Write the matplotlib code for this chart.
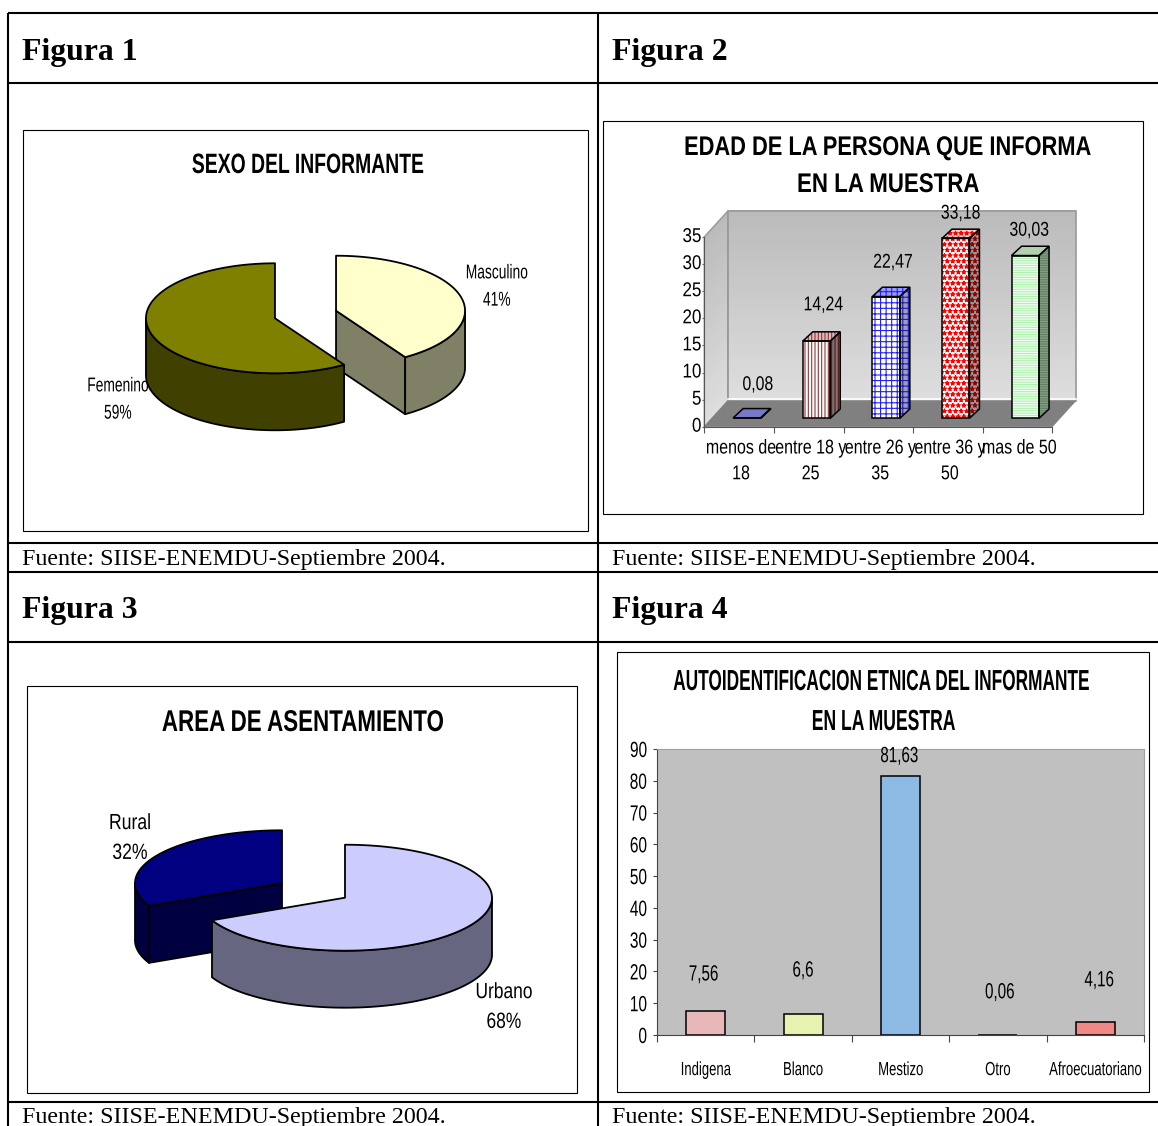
import numpy as np
import matplotlib
matplotlib.use("Agg")
import matplotlib.pyplot as plt
from matplotlib.patches import Polygon, Rectangle
from matplotlib.patheffects import AbstractPathEffect
from matplotlib.transforms import Affine2D, Bbox

W, H = 1158, 1126
SANS = ['Liberation Sans', 'DejaVu Sans']
SERIF = ['Liberation Serif', 'DejaVu Serif']

# ---- data ----
fig_titles = ['Figura 1', 'Figura 2', 'Figura 3', 'Figura 4']
source_note = 'Fuente: SIISE-ENEMDU-Septiembre 2004.'

sexo_labels = ['Masculino', 'Femenino']
sexo_pct = [41, 59]

area_labels = ['Urbano', 'Rural']
area_pct = [68, 32]

edad_labels = ['menos de\n18', 'entre 18 y\n25', 'entre 26 y\n35', 'entre 36 y\n50', 'mas de 50']
edad_vals = [0.08, 14.24, 22.47, 33.18, 30.03]
edad_text = ['0,08', '14,24', '22,47', '33,18', '30,03']
edad_ticks = [0, 5, 10, 15, 20, 25, 30, 35]

etnia_labels = ['Indigena', 'Blanco', 'Mestizo', 'Otro', 'Afroecuatoriano']
etnia_vals = [7.56, 6.6, 81.63, 0.06, 4.16]
etnia_text = ['7,56', '6,6', '81,63', '0,06', '4,16']
etnia_ticks = [0, 10, 20, 30, 40, 50, 60, 70, 80, 90]


def pt(px):
    return px * 0.72


class Squeeze(AbstractPathEffect):
    """Draws a text condensed horizontally about its left, centre or right."""

    def __init__(self, sx, anchor='center'):
        super().__init__()
        self.sx, self.anchor = sx, anchor

    def draw_path(self, renderer, gc, tpath, affine, rgbFace=None):
        xs = tpath.vertices[:, 0]
        a = {'left': xs.min(), 'right': xs.max(), 'center': (xs.min() + xs.max()) / 2}[self.anchor]
        aff = Affine2D().translate(-a, 0).scale(self.sx, 1).translate(a, 0) + affine
        renderer.draw_path(gc, tpath, aff, rgbFace)


def squeeze(t, sx, anchor='center'):
    t.set_path_effects([Squeeze(sx, anchor)])
    orig = t.get_window_extent

    def extent(renderer=None, dpi=None):
        b = orig(renderer, dpi)
        a = {'left': b.x0, 'right': b.x1, 'center': (b.x0 + b.x1) / 2}[anchor]
        return Bbox.from_extents(a + (b.x0 - a) * sx, b.y0, a + (b.x1 - a) * sx, b.y1)

    t.get_window_extent = extent
    return t


plt.rcParams['hatch.linewidth'] = 0.8
fig = plt.figure(figsize=(W / 100, H / 100), dpi=100, facecolor='white')
bg = fig.add_axes([0, 0, 1, 1])
bg.set_xlim(0, W)
bg.set_ylim(H, 0)
bg.axis('off')
rend = fig.canvas.get_renderer()


def fit(t, width):
    return squeeze(t, width / t.get_window_extent(rend).width)


def ax_px(x0, y0, x1, y1):
    return fig.add_axes([x0 / W, 1 - y1 / H, (x1 - x0) / W, (y1 - y0) / H])


# ---- table ----
for y in [13, 83, 543, 572, 642, 1102]:
    bg.plot([8, W], [y, y], color='black', lw=1.5, solid_capstyle='butt')
for x in [8, 598]:
    bg.plot([x, x], [13, H], color='black', lw=1.5, solid_capstyle='butt')

for i, (x, y) in enumerate([(22, 49), (612, 49), (22, 607), (612, 607)]):
    bg.text(x, y, fig_titles[i], family=SERIF, weight='bold', fontsize=pt(31.8),
            ha='left', va='center_baseline')
for x, y in [(22, 557), (612, 557), (22, 1115), (612, 1115)]:
    bg.text(x, y, source_note, family=SERIF, fontsize=pt(24.05), ha='left', va='center_baseline')

for x0, y0, x1, y1 in [(23, 130, 588, 531), (603, 121, 1143, 514),
                       (27, 686, 577, 1093), (617, 652, 1149, 1092)]:
    bg.add_patch(Rectangle((x0, y0), x1 - x0, y1 - y0, fc='white', ec='black', lw=0.8))


# ---- 3D pies ----
def arc(c, rx, ry, a0, a1, dy=0, n=120):
    t = np.radians(np.linspace(a0, a1, n))
    return np.column_stack([c[0] + rx * np.sin(t), c[1] - ry * np.cos(t) + dy])


def slice3d(c, rx, ry, depth, a0, a1, top, side):
    lw = 1.3
    ex = '#000000'
    apex = np.array(c, float)
    if 180 < a0 < 360:
        e = arc(c, rx, ry, a0, a0, n=1)[0]
        q = [apex, e, e + [0, depth], apex + [0, depth]]
        bg.add_patch(Polygon(q, fc=side, ec=ex, lw=lw, joinstyle='round'))
    if 0 < a1 < 180:
        e = arc(c, rx, ry, a1, a1, n=1)[0]
        q = [apex, e, e + [0, depth], apex + [0, depth]]
        bg.add_patch(Polygon(q, fc=side, ec=ex, lw=lw, joinstyle='round'))
    w0, w1 = max(a0, 90), min(a1, 270)
    if w1 > w0:
        up = arc(c, rx, ry, w0, w1)
        dn = arc(c, rx, ry, w0, w1, dy=depth)[::-1]
        bg.add_patch(Polygon(np.vstack([up, dn]), fc=side, ec=ex, lw=lw, joinstyle='round'))
    poly = np.vstack([[apex], arc(c, rx, ry, a0, a1)])
    bg.add_patch(Polygon(poly, fc=top, ec=ex, lw=lw, joinstyle='round'))


def pie3d(c, rx, ry, depth, pct, expl, tops, sides, order):
    angles = np.cumsum([0] + [p * 3.6 for p in pct])
    for i in order:
        mid = np.radians((angles[i] + angles[i + 1]) / 2)
        ci = (c[0] + expl * np.sin(mid), c[1] - expl * np.cos(mid) * ry / rx)
        slice3d(ci, rx, ry, depth, angles[i], angles[i + 1], tops[i], sides[i])


pie3d((305.5, 314.5), 129, 55, 57, sexo_pct, 31.8, ['#FFFFCC', '#808000'], ['#808066', '#404000'], [0, 1])
pie3d((313.5, 890.5), 147, 53, 57, area_pct, 37.3, ['#CCCCFF', '#000080'], ['#666680', '#000040'], [1, 0])

titles = [(308, 166, 'SEXO DEL INFORMANTE', 28, 232),
          (887, 148, 'EDAD DE LA PERSONA QUE INFORMA', 27, 406),
          (888, 185, 'EN LA MUESTRA', 27, 182),
          (303, 723, 'AREA DE ASENTAMIENTO', 30, 282),
          (883, 682, 'AUTOIDENTIFICACION ETNICA DEL INFORMANTE', 29, 418),
          (884, 722, 'EN LA MUESTRA', 29, 144)]
for x, y, s, size, width in titles:
    t = bg.text(x, y, s, family=SANS, weight='bold', fontsize=pt(size), ha='center', va='center')
    fit(t, width)

pie_labels = [(497, 286.5, f'{sexo_labels[0]}\n{sexo_pct[0]}%', 20, 0.69, 1.55),
              (118, 399.5, f'{sexo_labels[1]}\n{sexo_pct[1]}%', 20, 0.69, 1.55),
              (504, 1007.5, f'{area_labels[0]}\n{area_pct[0]}%', 22, 0.79, 1.55),
              (130, 838.5, f'{area_labels[1]}\n{area_pct[1]}%', 22, 0.8, 1.55)]
for x, y, s, size, sx, ls in pie_labels:
    t = bg.text(x, y, s, family=SANS, fontsize=pt(size), ha='center', va='center', linespacing=ls)
    squeeze(t, sx)

# ---- Figura 2: 3D columns ----
X0, X1, Y35, Y0 = 704.3, 1052.3, 237, 426.7
DEPTH_X, DEPTH_Y = 23.4, 25.7
ax2 = ax_px(X0, Y35, X1, Y0)
ax2.set_xlim(0, len(edad_vals))
ax2.set_ylim(0, edad_ticks[-1])
ax2.patch.set_visible(False)
ux = len(edad_vals) / (X1 - X0)
uy = edad_ticks[-1] / (Y0 - Y35)
dx, dy = DEPTH_X * ux, DEPTH_Y * uy
xmax, ymax = len(edad_vals), edad_ticks[-1]


def lerp_grey(a, b, f):
    v = a + (b - a) * f
    return (v, v, v)


n_strip = 40
for k in range(n_strip):
    f = k / n_strip
    y0 = ymax * f
    y1 = ymax * (k + 1.2) / n_strip
    col = lerp_grey(0.87, 0.73, f)
    ax2.fill([dx, xmax + dx, xmax + dx, dx], [y0 + dy, y0 + dy, y1 + dy, y1 + dy], color=col, lw=0,
             clip_on=False, zorder=1)
    ax2.fill([0, dx, dx, 0], [y0, y0 + dy, y1 + dy, y1], color=col, lw=0, clip_on=False, zorder=1)
ax2.add_patch(Polygon([[dx, dy], [dx, ymax + dy], [xmax + dx, ymax + dy], [xmax + dx, dy]],
                      fill=False, ec='#999999', lw=1.2, clip_on=False, zorder=2))
ax2.add_patch(Polygon([[0, 0], [0, ymax], [dx, ymax + dy], [dx, dy]],
                      fill=False, ec='#999999', lw=1.0, clip_on=False, zorder=2))
ax2.add_patch(Polygon([[0, 0], [xmax, 0], [xmax + dx, dy], [dx, dy]],
                      fc='#808080', ec='#808080', lw=0.5, clip_on=False, zorder=2))
ax2.plot([dx, xmax + dx], [dy + 0.3, dy + 0.3], color='white', lw=1.2, clip_on=False, zorder=2)

bar_w = 27.5 * ux
bar_off = 7.8 * ux
bar_dx, bar_dy = 10 * ux, 9.3 * uy
bar_base = 8.4 * uy
front_fc = ['#7878C8', 'white', 'white', 'white', '#F0FFF0']
front_h = [None, '|||||', '+++', '***', '-------']
front_hc = ['#7878C8', '#993333', '#2020FF', '#FF0000', '#B0F0B0']
side_fc = ['#7878C8', '#777777', '#9999CC', '#999999', '#80A080']
side_hc = ['#7878C8', '#661111', '#2020A0', '#990000', '#608060']
top_fc = ['#7878C8', '#DDBBBB', '#9999FF', '#FFCCCC', '#B0D0B0']
top_hc = ['#7878C8', '#993333', '#2020FF', '#FF0000', '#B0D0B0']
lab_dx = [11, 7, 7, 5, 4]
lab_dy = [24, 27, 25, 16, 16]

for i, v in enumerate(edad_vals):
    left = i + 0.5 + bar_off - bar_w / 2
    right = left + bar_w
    top = bar_base + v
    ax2.bar(left, v, width=bar_w, bottom=bar_base, align='edge', fc=front_fc[i], ec=front_hc[i],
            hatch=front_h[i], lw=0, clip_on=False, zorder=3)
    ax2.bar(left, v, width=bar_w, bottom=bar_base, align='edge', fill=False, ec='black', lw=1.1,
            clip_on=False, zorder=4)
    side = [[right, bar_base], [right, top], [right + bar_dx, top + bar_dy], [right + bar_dx, bar_base + bar_dy]]
    lid = [[left, top], [right, top], [right + bar_dx, top + bar_dy], [left + bar_dx, top + bar_dy]]
    for pts, fc, hc in [(side, side_fc[i], side_hc[i]), (lid, top_fc[i], top_hc[i])]:
        ax2.add_patch(Polygon(pts, fc=fc, ec=hc, hatch=front_h[i], lw=0, clip_on=False, zorder=3))
        ax2.add_patch(Polygon(pts, fill=False, ec='black', lw=1.1, clip_on=False, zorder=4))
    t = ax2.annotate(edad_text[i], (left + bar_w / 2, top + bar_dy), xytext=(lab_dx[i], lab_dy[i]),
                     textcoords='offset pixels', ha='center', va='center', family=SANS,
                     fontsize=pt(20), zorder=6, annotation_clip=False)
    squeeze(t, 0.79)

for s in ['top', 'right']:
    ax2.spines[s].set_visible(False)
for s in ['left', 'bottom']:
    ax2.spines[s].set_color('#555555')
    ax2.spines[s].set_zorder(5)
ax2.set_yticks(edad_ticks)
ax2.set_yticklabels([str(t) for t in edad_ticks], family=SANS, fontsize=pt(20))
ax2.tick_params(axis='y', length=1.5, pad=0.5, color='#555555')
ax2.set_xticks(range(len(edad_vals) + 1))
ax2.set_xticklabels([])
ax2.tick_params(axis='x', which='major', length=4, color='#555555')
ax2.set_xticks(np.arange(len(edad_vals)) + 0.5, minor=True)
ax2.set_xticklabels(edad_labels, minor=True, family=SANS, fontsize=pt(20), linespacing=1.45)
ax2.tick_params(axis='x', which='minor', length=0, pad=8.5)
for t in ax2.get_yticklabels():
    squeeze(t, 0.85, 'right')
    t.set_transform(t.get_transform() + Affine2D().translate(0, 2.5))
for t in ax2.get_xticklabels(minor=True):
    squeeze(t, 0.8)
    t.set_transform(t.get_transform() + Affine2D().translate(2, 0))

# ---- Figura 4: columns ----
ax4 = ax_px(657, 749, 1144, 1035)
ax4.set_facecolor('#C0C0C0')
ax4.set_xlim(0, len(etnia_vals))
ax4.set_ylim(etnia_ticks[0], etnia_ticks[-1])
etnia_fc = ['#E8B8B8', '#E6F2B0', '#8DB9E5', '#E8B8B8', '#F08888']
etnia_dx = [-2, 0, -1, 2, 4]
etnia_dy = [36, 43, 19, 42, 41]
xs = np.arange(len(etnia_vals)) + 0.5
ax4.bar(xs, etnia_vals, width=0.4, color=etnia_fc, edgecolor='black', lw=1.1, zorder=3)
for i, v in enumerate(etnia_vals):
    t = ax4.annotate(etnia_text[i], (xs[i], v), xytext=(etnia_dx[i], etnia_dy[i]),
                     textcoords='offset pixels', ha='center', va='center', family=SANS,
                     fontsize=pt(22), zorder=6, annotation_clip=False)
    squeeze(t, 0.69)
for s in ['top', 'right']:
    ax4.spines[s].set_color('#A0A0A0')
ax4.spines['left'].set_color('#444444')
ax4.spines['bottom'].set_color('#444444')
ax4.set_yticks(etnia_ticks)
ax4.set_yticklabels([str(t) for t in etnia_ticks], family=SANS, fontsize=pt(22))
ax4.tick_params(axis='y', length=3, pad=4, color='#444444')
ax4.set_xticks(range(len(etnia_vals) + 1))
ax4.set_xticklabels([])
ax4.tick_params(axis='x', which='major', length=5, color='#444444')
ax4.set_xticks(xs, minor=True)
ax4.set_xticklabels(etnia_labels, minor=True, family=SANS, fontsize=pt(19))
ax4.tick_params(axis='x', which='minor', length=0, pad=19.5)
for t in ax4.get_yticklabels():
    squeeze(t, 0.7, 'right')
for t in ax4.get_xticklabels(minor=True):
    squeeze(t, 0.69)

fig.savefig('out.png', dpi=100, facecolor='white')
